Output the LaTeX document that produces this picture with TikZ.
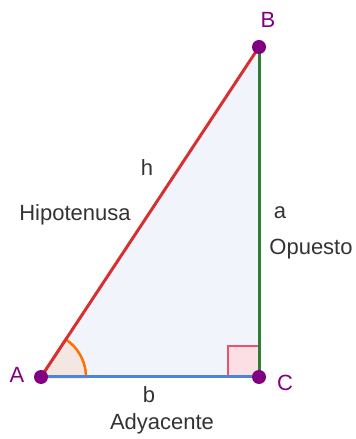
\documentclass[tikz,border=0pt]{standalone}
\usepackage{fontspec}
\setmainfont{Liberation Sans}
\usepackage{tikz}
\definecolor{ptpurple}{RGB}{128,0,128}
\definecolor{hypred}{RGB}{214,48,49}
\definecolor{opgreen}{RGB}{46,125,50}
\definecolor{adblue}{RGB}{74,134,212}
\definecolor{trifill}{RGB}{241,245,251}
\definecolor{angorange}{RGB}{255,112,0}
\definecolor{angfill}{RGB}{244,230,224}
\definecolor{rtpink}{RGB}{240,80,110}

\begin{document}
\begin{tikzpicture}[x=1pt,y=1pt,every node/.style={font=\fontsize{22}{26}\selectfont,text=black!80}]
	\useasboundingbox (0,0) rectangle (356,439);
	\coordinate (A) at (41,62); \coordinate (B) at (259,392); \coordinate (C) at (259,62);
	\fill[trifill] (A) -- (B) -- (C) -- cycle;
	% angulo en A y angulo recto en C
	\filldraw[fill=angfill, draw=angorange, line width=2.5pt] (A) -- ++(45,0) arc (0:56.55:45) -- cycle;
	\filldraw[fill=rtpink!18, draw=rtpink, line width=2pt] (C) rectangle ++(-31,31);
	\draw[line width=3pt, hypred] (A) -- (B);
	\draw[line width=3pt, opgreen] (C) -- (B);
	\draw[line width=3pt, adblue] (A) -- (C);
	\foreach \p in {A,B,C} {\fill[ptpurple] (\p) circle (7pt);}
	\node[text=ptpurple] (lA) at (17,64) {A};
	\node[text=ptpurple] (lB) at (268,419) {B};
	\node[text=ptpurple] (lC) at (285,56) {C};
	\node (h) at (147,271) {h};
	\node (hip) at (75,224) {Hipotenusa};
	\node (a) at (280,226) {a};
	\node (op) at (311,190) {Opuesto};
	\node (b) at (149,44) {b};
	\node (ady) at (162,15) {Adyacente};
\end{tikzpicture}
\end{document}
